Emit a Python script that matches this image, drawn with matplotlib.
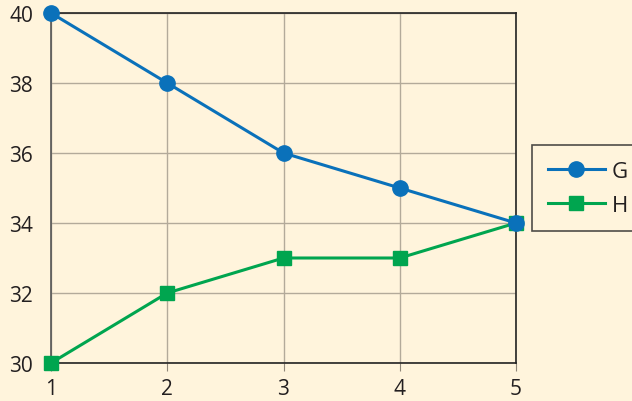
import matplotlib.pyplot as plt

# valeurs
x = [1, 2, 3, 4, 5]
g_vals = [40, 38, 36, 35, 34]
h_vals = [30, 32, 33, 33, 34]
x_ticks = [1, 2, 3, 4, 5]
y_ticks = [30, 32, 34, 36, 38, 40]

bg = "#FFF4DC"
blue = "#0A71BA"
green = "#00A54F"

plt.rcParams["font.family"] = ["Open Sans", "DejaVu Sans"]

fig = plt.figure(figsize=(6.32, 4.02), dpi=100, facecolor=bg)
ax = fig.add_axes([51 / 632, 38 / 402, 465 / 632, 350 / 402])
ax.set_facecolor(bg)

ax.plot(x, h_vals, color=green, lw=2.2, marker="s", ms=10, clip_on=False, zorder=3, label="H")
ax.plot(x, g_vals, color=blue, lw=2.2, marker="o", ms=11, clip_on=False, zorder=4, label="G")

ax.set_xlim(1, 5)
ax.set_ylim(30, 40)
ax.set_xticks(x_ticks)
ax.set_yticks(y_ticks)
ax.grid(True, color="#B3AA9A", lw=1)
ax.set_axisbelow(True)

for s in ["top", "right", "bottom"]:
    ax.spines[s].set_color("#222222")
    ax.spines[s].set_linewidth(1.2)
ax.spines["left"].set_color("#555555")
ax.spines["left"].set_linewidth(1.2)

ax.tick_params(axis="x", length=6, color="#8F8678", labelsize=15, pad=5)
ax.tick_params(axis="y", length=0, labelsize=15, pad=13)
for lab in ax.get_xticklabels() + ax.get_yticklabels():
    lab.set_color("#231F20")

# légende avec G en premier
handles, labels = ax.get_legend_handles_labels()
leg = fig.legend(handles[::-1], labels[::-1], loc="upper left",
                 bbox_to_anchor=(532 / 632, 1 - 146 / 402),
                 frameon=True, fancybox=False, fontsize=16,
                 handlelength=2.6, borderpad=0.7, labelspacing=0.6,
                 handletextpad=0.3, borderaxespad=0)
leg.get_frame().set_edgecolor("#222222")
leg.get_frame().set_facecolor(bg)
leg.get_frame().set_linewidth(1.2)
for t in leg.get_texts():
    t.set_color("#231F20")

fig.savefig("out.png", dpi=100, facecolor=bg)
